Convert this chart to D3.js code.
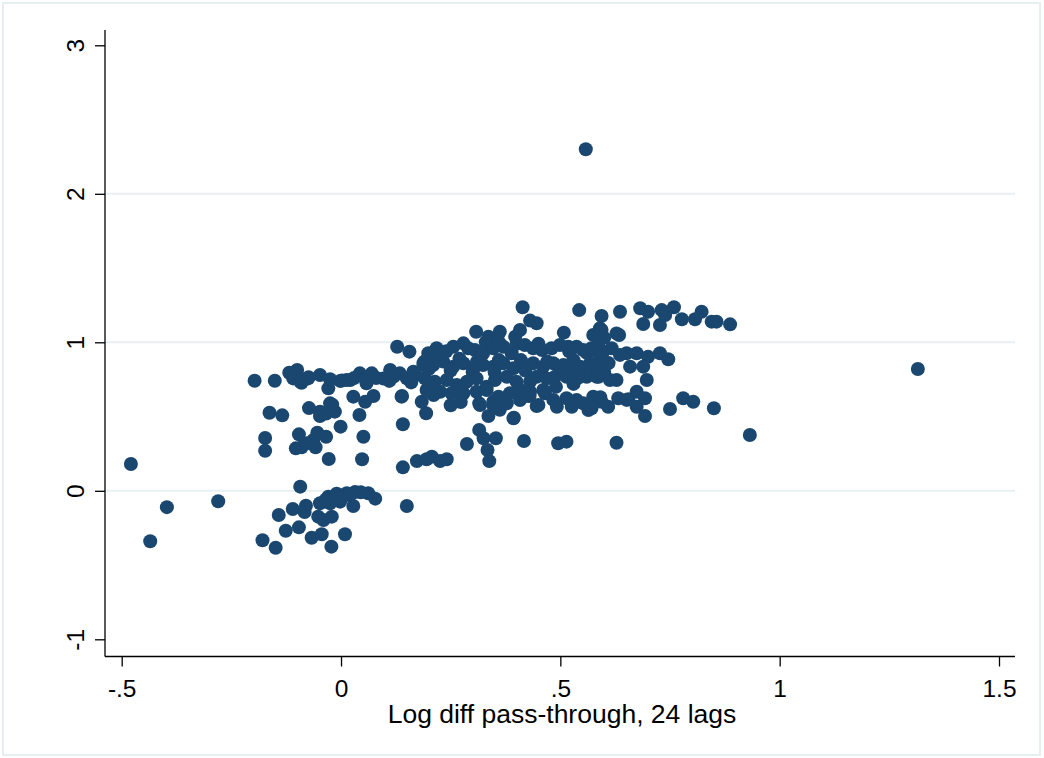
<!DOCTYPE html>
<html><head><meta charset="utf-8">
<script src="https://cdn.jsdelivr.net/npm/d3@7"></script>
<style>html,body{margin:0;padding:0;background:#fff;}svg{display:block;}</style>
</head><body>
<svg id="chart" width="1044" height="758"></svg>
<script>
const xTicks = [-0.5, 0, 0.5, 1, 1.5];
const xTickLabels = ["-.5", "0", ".5", "1", "1.5"];
const yTicks = [-1, 0, 1, 2, 3];
const yTickLabels = ["-1", "0", "1", "2", "3"];
const gridValues = [0, 1, 2];
const xTitle = "Log diff pass-through, 24 lags";

const outliers = [[-0.479,0.18],[-0.435,-0.34],[-0.397,-0.11],[-0.28,-0.07],[0.558,2.30],[1.315,0.82],[0.932,0.376],[0.85,0.556]];

const lowCluster = [[-0.093,0.028],[-0.142,-0.163],[-0.11,-0.123],[-0.08,-0.10],[-0.083,-0.143],[-0.048,-0.084],[-0.029,-0.04],[-0.006,-0.029],[0.013,-0.017],[0.032,-0.008],[0.062,-0.017],[0.078,-0.053],[-0.025,-0.084],[-0.002,-0.073],[0.028,-0.102],[-0.052,-0.174],[-0.04,-0.197],[-0.021,-0.174],[-0.126,-0.269],[-0.096,-0.246],[-0.067,-0.316],[-0.044,-0.293],[-0.179,-0.333],[-0.149,-0.383],[-0.022,-0.376],[0.009,-0.293],[0.15,-0.102],[-0.015,-0.06],[0.0,-0.05],[0.02,-0.03],[-0.035,-0.06],[0.045,-0.01],[-0.01,-0.02]];

const leftMid = [[-0.163,0.526],[-0.134,0.508],[-0.073,0.557],[-0.048,0.533],[-0.025,0.589],[-0.014,0.533],[-0.048,0.504],[-0.034,0.52],[-0.001,0.432],[-0.173,0.356],[-0.173,0.27],[-0.096,0.38],[-0.103,0.286],[-0.09,0.293],[-0.054,0.391],[-0.034,0.364],[-0.063,0.342],[-0.058,0.293],[-0.028,0.214],[-0.078,0.32],[0.042,0.51],[0.028,0.634],[0.055,0.60],[0.074,0.638],[0.051,0.364],[0.048,0.212],[-0.02,0.58]];

const midLow = [[0.139,0.638],[0.141,0.448],[0.141,0.158],[0.173,0.20],[0.195,0.212],[0.207,0.23],[0.226,0.20],[0.241,0.212],[0.194,0.522],[0.184,0.60],[0.211,0.645],[0.25,0.576],[0.273,0.598],[0.315,0.589],[0.336,0.504],[0.347,0.578],[0.362,0.545],[0.378,0.589],[0.393,0.488],[0.408,0.611],[0.427,0.638],[0.446,0.571],[0.315,0.41],[0.325,0.354],[0.353,0.354],[0.334,0.275],[0.338,0.20],[0.287,0.315],[0.417,0.335],[0.45,0.578],[0.465,0.657],[0.484,0.612],[0.492,0.566],[0.514,0.623],[0.526,0.566],[0.537,0.612],[0.552,0.589],[0.564,0.544],[0.575,0.634],[0.609,0.566],[0.632,0.623],[0.495,0.32],[0.514,0.331],[0.628,0.324],[0.394,0.492],[0.43,0.64],[0.317,0.578],[0.347,0.60]];

const rightLow = [[0.613,0.746],[0.628,0.746],[0.697,0.746],[0.655,0.616],[0.674,0.667],[0.693,0.623],[0.674,0.566],[0.693,0.504],[0.75,0.551],[0.78,0.623],[0.803,0.60],[0.591,0.63],[0.594,0.60],[0.587,0.768],[0.651,0.612],[0.571,0.556]];

const topRight = [[0.414,1.236],[0.543,1.217],[0.594,1.177],[0.431,1.146],[0.446,1.128],[0.308,1.071],[0.336,1.038],[0.362,1.071],[0.397,1.038],[0.408,1.083],[0.508,1.065],[0.575,1.049],[0.59,1.094],[0.628,1.06],[0.636,1.206],[0.682,1.229],[0.70,1.206],[0.731,1.217],[0.739,1.184],[0.759,1.236],[0.727,1.116],[0.689,1.123],[0.777,1.155],[0.807,1.155],[0.822,1.206],[0.845,1.139],[0.856,1.139],[0.887,1.121],[0.634,1.049],[0.594,1.083],[0.60,1.03]];

const bandHigh = [[0.128,0.97],[0.156,0.937],[0.214,0.937],[0.218,0.96],[0.199,0.926],[0.256,0.97],[0.279,0.993],[0.305,0.948],[0.324,0.926],[0.347,0.96],[0.37,0.97],[0.389,0.926],[0.419,0.982],[0.438,0.96],[0.458,0.948],[0.48,0.96],[0.499,0.982],[0.518,0.97],[0.537,0.97],[0.552,0.948],[0.571,0.96],[0.586,0.982],[0.24,0.94],[0.29,0.96],[0.33,1.0],[0.36,1.0],[0.4,0.99],[0.45,0.99],[0.52,0.94],[0.56,0.93],[0.575,0.948],[0.598,0.937],[0.617,0.96],[0.636,0.915],[0.651,0.926],[0.674,0.926],[0.70,0.903],[0.727,0.926],[0.746,0.886],[0.659,0.836],[0.689,0.836],[0.59,0.88],[0.61,0.86],[0.58,0.82],[0.6,0.8]];

const bandMid = [[0.188,0.859],[0.21,0.847],[0.233,0.87],[0.256,0.836],[0.279,0.859],[0.302,0.825],[0.324,0.847],[0.347,0.836],[0.37,0.859],[0.393,0.825],[0.416,0.847],[0.438,0.859],[0.461,0.836],[0.484,0.859],[0.507,0.847],[0.526,0.825],[0.545,0.836],[0.568,0.859],[0.586,0.836],[0.22,0.88],[0.27,0.89],[0.31,0.87],[0.36,0.88],[0.41,0.88],[0.47,0.87],[0.53,0.88],[0.25,0.81],[0.3,0.8],[0.35,0.8],[0.42,0.81],[0.5,0.81],[0.55,0.8]];

const bandLow = [[0.191,0.757],[0.214,0.735],[0.241,0.746],[0.264,0.712],[0.287,0.735],[0.309,0.757],[0.332,0.701],[0.351,0.746],[0.378,0.768],[0.40,0.735],[0.431,0.735],[0.446,0.768],[0.469,0.757],[0.488,0.768],[0.514,0.768],[0.56,0.768],[0.583,0.768],[0.195,0.679],[0.226,0.667],[0.252,0.657],[0.279,0.657],[0.309,0.667],[0.332,0.679],[0.359,0.634],[0.385,0.657],[0.408,0.679],[0.431,0.667],[0.461,0.679],[0.53,0.72],[0.49,0.70],[0.54,0.76]];

const bandLeft = [[-0.197,0.741],[-0.151,0.741],[-0.118,0.795],[-0.1,0.813],[-0.109,0.757],[-0.09,0.728],[-0.093,0.735],[-0.074,0.765],[-0.075,0.757],[-0.048,0.78],[-0.025,0.751],[-0.029,0.69],[-0.002,0.74],[0.013,0.746],[0.002,0.742],[0.021,0.746],[0.043,0.791],[0.07,0.791],[0.058,0.724],[0.096,0.757],[0.112,0.813],[0.134,0.791],[0.15,0.757],[0.165,0.802],[0.188,0.847],[0.138,0.634],[0.19,0.87],[0.2,0.82],[0.08,0.76],[0.12,0.77],[0.17,0.78],[0.11,0.74],[0.03,0.76],[0.16,0.73]];

const points = [].concat(outliers, lowCluster, leftMid, midLow, rightLow, topRight, bandHigh, bandMid, bandLow, bandLeft);

const svg = d3.select("#chart");
const x = d3.scaleLinear().domain([-0.5, 1.5]).range([121.7, 999]);
const y = d3.scaleLinear().domain([-1, 3]).range([639.3, 45.3]);
const axisLeft = 105, axisRight = 1015, axisTop = 30, axisBottom = 656.5;
const navy = "#1a476f";
const font = "'Liberation Sans', Arial, Helvetica, sans-serif";

svg.append("rect").attr("x", 3).attr("y", 3).attr("width", 1037).attr("height", 752)
  .attr("fill", "#fff").attr("stroke", "#e6eef0").attr("stroke-width", 2);

svg.append("g").selectAll("line").data(gridValues).join("line")
  .attr("x1", axisLeft).attr("x2", axisRight)
  .attr("y1", d => y(d)).attr("y2", d => y(d))
  .attr("stroke", "#e8f0f2").attr("stroke-width", 2);

svg.append("g").selectAll("circle").data(points).join("circle")
  .attr("cx", d => x(d[0])).attr("cy", d => y(d[1])).attr("r", 7)
  .attr("fill", navy);

// axes
const gx = svg.append("g").attr("transform", `translate(0,${axisBottom})`)
  .call(d3.axisBottom(x).tickValues(xTicks).tickFormat((d, i) => xTickLabels[i]).tickSizeOuter(0).tickSize(10));
gx.select(".domain").remove();
gx.selectAll(".tick line").attr("stroke", "#000").attr("stroke-width", 1.3);
gx.selectAll(".tick text").attr("font-family", font).attr("font-size", 24.5).attr("fill", "#000").attr("y", 0).attr("dy", 0)
  .attr("transform", "translate(0,40)");

const gy = svg.append("g").attr("transform", `translate(${axisLeft},0)`)
  .call(d3.axisLeft(y).tickValues(yTicks).tickFormat((d, i) => yTickLabels[i]).tickSizeOuter(0).tickSize(10));
gy.select(".domain").remove();
gy.selectAll(".tick line").attr("stroke", "#000").attr("stroke-width", 1.3);
gy.selectAll(".tick text").attr("font-family", font).attr("font-size", 24.5).attr("fill", "#000")
  .attr("x", 0).attr("dy", 0).attr("text-anchor", "middle")
  .attr("transform", "translate(-21.5,0) rotate(-90)");

svg.append("line").attr("x1", axisLeft).attr("x2", axisLeft).attr("y1", axisTop).attr("y2", axisBottom)
  .attr("stroke", "#000").attr("stroke-width", 1.3);
svg.append("line").attr("x1", axisLeft).attr("x2", axisRight).attr("y1", axisBottom).attr("y2", axisBottom)
  .attr("stroke", "#000").attr("stroke-width", 1.3);

svg.append("text").attr("x", (axisLeft + axisRight) / 2 + 2).attr("y", 723)
  .attr("text-anchor", "middle").attr("font-family", font).attr("font-size", 26.5).attr("fill", "#000")
  .text(xTitle);
</script>
</body></html>
